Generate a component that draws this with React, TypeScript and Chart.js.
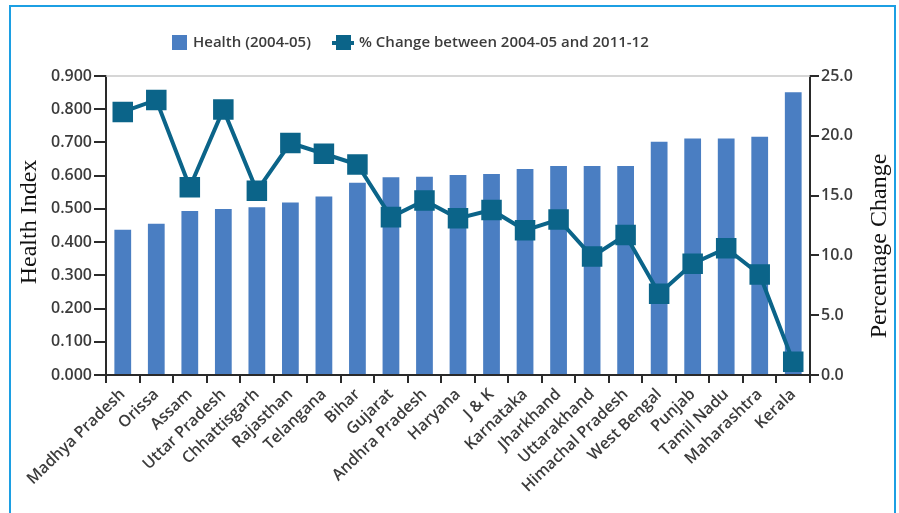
import React, { useEffect, useRef } from "react";
import { Chart, registerables } from "chart.js";

Chart.register(...registerables);

const states = [
  "Madhya Pradesh", "Orissa", "Assam", "Uttar Pradesh", "Chhattisgarh", "Rajasthan",
  "Telangana", "Bihar", "Gujarat", "Andhra Pradesh", "Haryana", "J & K", "Karnataka",
  "Jharkhand", "Uttarakhand", "Himachal Pradesh", "West Bengal", "Punjab",
  "Tamil Nadu", "Maharashtra", "Kerala",
];

const health2004 = [
  0.437, 0.455, 0.494, 0.5, 0.505, 0.519, 0.537, 0.579, 0.595, 0.597, 0.602,
  0.605, 0.62, 0.629, 0.629, 0.629, 0.702, 0.712, 0.712, 0.717, 0.851,
];

const pctChange = [
  22.0, 23.0, 15.7, 22.2, 15.4, 19.4, 18.5, 17.6, 13.2, 14.6, 13.1,
  13.8, 12.1, 13.0, 9.9, 11.7, 6.8, 9.3, 10.6, 8.4, 1.1,
];

const leftTicks = [0, 0.1, 0.2, 0.3, 0.4, 0.5, 0.6, 0.7, 0.8, 0.9];
const rightTicks = [0, 5, 10, 15, 20, 25];

const barLabel = "Health (2004-05)";
const lineLabel = "% Change between 2004-05 and 2011-12";
const leftTitle = "Health Index";
const rightTitle = "Percentage Change";

const BAR_COLOR = "#4a7ec2";
const LINE_COLOR = "#0b6489";
const TEXT_COLOR = "#3c3c3c";
const AXIS_COLOR = "#2a2a2a";
const SANS = "'Open Sans', sans-serif";
const SERIF = "'Liberation Serif', 'DejaVu Serif', serif";

const decorations = {
  id: "decorations",
  afterDraw(chart: any) {
    const { ctx, chartArea } = chart;
    ctx.save();
    // light rule across the top of the plot
    ctx.strokeStyle = "#c8c8c8";
    ctx.lineWidth = 1.5;
    ctx.beginPath();
    ctx.moveTo(chartArea.left, chartArea.top);
    ctx.lineTo(chartArea.right, chartArea.top);
    ctx.stroke();

    // legend
    ctx.font = `600 15px ${SANS}`;
    ctx.textBaseline = "middle";
    ctx.textAlign = "left";
    const ly = 43;
    ctx.fillStyle = BAR_COLOR;
    ctx.fillRect(172, ly - 8, 15, 15);
    ctx.fillStyle = TEXT_COLOR;
    ctx.fillText(barLabel, 193, ly);
    ctx.strokeStyle = LINE_COLOR;
    ctx.lineWidth = 4;
    ctx.beginPath();
    ctx.moveTo(332, ly);
    ctx.lineTo(354, ly);
    ctx.stroke();
    ctx.fillStyle = LINE_COLOR;
    ctx.fillRect(336, ly - 8, 15, 15);
    ctx.fillStyle = TEXT_COLOR;
    ctx.fillText(lineLabel, 359, ly);

    // axis titles, both reading bottom to top
    ctx.font = `24px ${SERIF}`;
    ctx.fillStyle = "#111";
    ctx.textAlign = "center";
    ctx.textBaseline = "middle";
    ctx.translate(30, 222);
    ctx.rotate(-Math.PI / 2);
    ctx.fillText(leftTitle, 0, 0);
    ctx.setTransform(1, 0, 0, 1, 0, 0);
    ctx.translate(880, 246);
    ctx.rotate(-Math.PI / 2);
    ctx.fillText(rightTitle, 0, 0);
    ctx.restore();
  },
};

export default function App() {
  const ref = useRef<HTMLCanvasElement>(null);

  useEffect(() => {
    document.body.style.margin = "0";
    const tickFont = { family: SANS, size: 16, weight: 600 as any };
    const chart = new Chart(ref.current!, {
      type: "bar",
      data: {
        labels: states,
        datasets: [
          {
            type: "line",
            label: lineLabel,
            data: pctChange,
            yAxisID: "y2",
            borderColor: LINE_COLOR,
            backgroundColor: LINE_COLOR,
            borderWidth: 4,
            pointStyle: "rect",
            pointRadius: 14.5,
            pointBorderWidth: 0,
            tension: 0,
            order: 0,
          } as any,
          {
            type: "bar",
            label: barLabel,
            data: health2004,
            yAxisID: "y",
            backgroundColor: BAR_COLOR,
            categoryPercentage: 1,
            barPercentage: 0.5,
            order: 1,
          },
        ],
      },
      options: {
        animation: false,
        responsive: false,
        layout: { padding: { top: 76, left: 0, right: 0, bottom: 0 } },
        plugins: { legend: { display: false }, tooltip: { enabled: false } },
        scales: {
          x: {
            offset: true,
            grid: {
              offset: true,
              drawOnChartArea: false,
              drawTicks: true,
              tickLength: 8,
              color: AXIS_COLOR,
              lineWidth: 2,
            },
            border: { display: true, color: AXIS_COLOR, width: 2 },
            ticks: {
              font: tickFont,
              color: TEXT_COLOR,
              minRotation: 44,
              maxRotation: 44,
              autoSkip: false,
              padding: 2,
            },
            afterFit: (s: any) => {
              s.height = 138;
            },
          },
          y: {
            position: "left",
            min: 0,
            max: 0.9,
            afterBuildTicks: (s: any) => {
              s.ticks = leftTicks.map((v) => ({ value: v }));
            },
            grid: {
              drawOnChartArea: false,
              drawTicks: true,
              tickLength: 12,
              color: AXIS_COLOR,
              lineWidth: 2,
            },
            border: { display: true, color: AXIS_COLOR, width: 2 },
            ticks: {
              font: tickFont,
              color: TEXT_COLOR,
              padding: 2,
              callback: (v: any) => Number(v).toFixed(3),
            },
            afterFit: (s: any) => {
              s.width = 106;
            },
          },
          y2: {
            position: "right",
            min: 0,
            max: 25,
            afterBuildTicks: (s: any) => {
              s.ticks = rightTicks.map((v) => ({ value: v }));
            },
            grid: {
              drawOnChartArea: false,
              drawTicks: true,
              tickLength: 9,
              color: AXIS_COLOR,
              lineWidth: 2,
            },
            border: { display: true, color: AXIS_COLOR, width: 2 },
            ticks: {
              font: tickFont,
              color: TEXT_COLOR,
              padding: 2,
              callback: (v: any) => Number(v).toFixed(1),
            },
            afterFit: (s: any) => {
              s.width = 89;
            },
          },
        },
      },
      plugins: [decorations],
    });
    return () => chart.destroy();
  }, []);

  return (
    <div style={{ position: "relative", width: 899, height: 513, background: "#fff", overflow: "hidden" }}>
      <canvas ref={ref} width={899} height={513} style={{ display: "block" }} />
      <div
        style={{
          position: "absolute",
          left: 9,
          top: 5,
          width: 887,
          height: 530,
          border: "2px solid #1c9fe3",
          boxSizing: "border-box",
          pointerEvents: "none",
        }}
      />
    </div>
  );
}
